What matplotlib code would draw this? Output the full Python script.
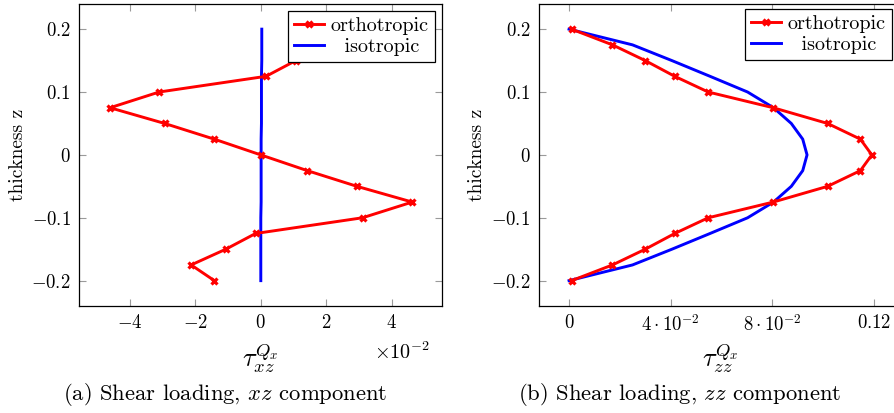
import matplotlib
matplotlib.use("Agg")
import matplotlib.pyplot as plt
from matplotlib.ticker import FixedLocator, FixedFormatter

plt.rcParams['font.family'] = 'serif'
plt.rcParams['font.serif'] = ['cmr10']
plt.rcParams['mathtext.fontset'] = 'cm'
plt.rcParams['axes.formatter.use_mathtext'] = True
plt.rcParams['axes.unicode_minus'] = False

fs = 13.5

# data
z = [0.2, 0.175, 0.15, 0.125, 0.1, 0.075, 0.05, 0.025, 0.0,
     -0.025, -0.05, -0.075, -0.1, -0.125, -0.15, -0.175, -0.2]

# panel (a), values in units of 1e-2
ortho_xz = [1.42, 2.13, 1.07, 0.16, -3.11, -4.61, -2.94, -1.42, 0.0,
            1.42, 2.94, 4.63, 3.11, -0.16, -1.07, -2.13, -1.42]
iso_xz = [0.03, 0.03, 0.03, 0.02, 0.02, 0.02, 0.02, 0.01, 0.01,
          0.01, 0.01, 0.01, 0.0, 0.0, 0.0, 0.0, 0.0]

# panel (b)
ortho_zz = [0.001, 0.0171, 0.030, 0.0416, 0.0548, 0.0804, 0.1018, 0.1147, 0.1192,
            0.1147, 0.1018, 0.0804, 0.0548, 0.0416, 0.030, 0.0171, 0.001]
iso_zz = [0.0, 0.025, 0.0405, 0.0555, 0.0703, 0.0805, 0.0875, 0.092, 0.0937,
          0.092, 0.0875, 0.0805, 0.0703, 0.0555, 0.0405, 0.025, 0.0]

ytick_vals = [-0.2, -0.1, 0.0, 0.1, 0.2]
ytick_labels = [r'$-0.2$', r'$-0.1$', r'$0$', r'$0.1$', r'$0.2$']
xtick_vals_a = [-4, -2, 0, 2, 4]
xtick_labels_a = [r'$-4$', r'$-2$', r'$0$', r'$2$', r'$4$']
xtick_vals_b = [0.0, 0.04, 0.08, 0.12]
xtick_labels_b = [r'$0$', r'$4\cdot10^{-2}$', r'$8\cdot10^{-2}$', r'$0.12$']

W, H = 895, 413
fig = plt.figure(figsize=(W / 100, H / 100), dpi=100)
bottom = 1 - 305.8 / H
height = 301.8 / H
ax1 = fig.add_axes([79.3 / W, bottom, 363 / W, height])
ax2 = fig.add_axes([538.8 / W, bottom, 363 / W, height])


def style(ax, xt, xl):
    ax.set_ylim(-0.24, 0.24)
    ax.xaxis.set_major_locator(FixedLocator(xt))
    ax.xaxis.set_major_formatter(FixedFormatter(xl))
    ax.yaxis.set_major_locator(FixedLocator(ytick_vals))
    ax.yaxis.set_major_formatter(FixedFormatter(ytick_labels))
    ax.tick_params(direction='in', top=True, right=True, length=5, width=0.8,
                   color='#9a9a9a', labelsize=fs, pad=6)
    for s in ax.spines.values():
        s.set_linewidth(0.9)
    ax.set_ylabel('thickness z', fontsize=fs + 0.5)
    ax.yaxis.set_label_coords(-0.145, 0.5)


def curves(ax, xo, xi, anchor):
    ax.plot(xo, z, color='red', lw=2.1, marker='x', ms=4.5, mew=2.3,
            label='orthotropic', zorder=3)
    ax.plot(xi, z, color='blue', lw=2.1, label='  isotropic', zorder=2)
    leg = ax.legend(loc='upper right', bbox_to_anchor=anchor, borderaxespad=0,
                    fontsize=fs + 1, fancybox=False, framealpha=1, edgecolor='black',
                    handlelength=1.5, handletextpad=0.35, labelspacing=0.12,
                    borderpad=0.3)
    leg.get_frame().set_linewidth(0.9)


curves(ax1, ortho_xz, iso_xz, (0.980, 0.977))
style(ax1, xtick_vals_a, xtick_labels_a)
ax1.set_xlim(-5.55, 5.55)
ax1.set_xlabel(r'$\tau_{xz}^{Q_x}$', fontsize=19)
ax1.xaxis.set_label_coords(0.5, -0.115)
ax1.text(0.966, -0.153, r'$\times10^{-2}$', transform=ax1.transAxes,
         ha='right', va='center', fontsize=fs + 1)

curves(ax2, ortho_zz, iso_zz, (0.973, 0.983))
style(ax2, xtick_vals_b, xtick_labels_b)
ax2.set_xlim(-0.0119, 0.131)
ax2.set_xlabel(r'$\tau_{zz}^{Q_x}$', fontsize=19)
ax2.xaxis.set_label_coords(0.5, -0.115)

fig.text(225 / W, 1 - 394 / H, r'(a) Shear loading, $xz$ component',
         ha='center', va='center', fontsize=16.3)
fig.text(680 / W, 1 - 394 / H, r'(b) Shear loading, $zz$ component',
         ha='center', va='center', fontsize=16.3)

fig.savefig('out.png', dpi=100)
